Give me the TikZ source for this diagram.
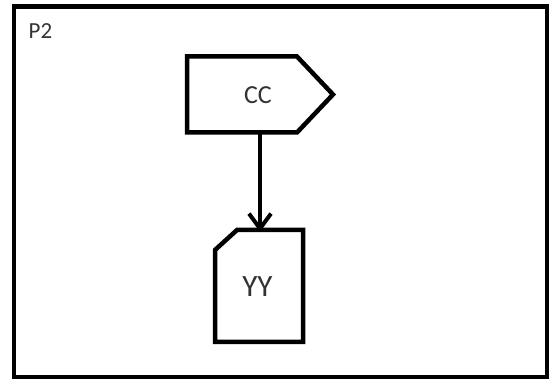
\documentclass[tikz,border=0pt]{standalone}
\usepackage{fontspec}
\setmainfont{Carlito}
\usetikzlibrary{arrows.meta}
\begin{document}
\begin{tikzpicture}[x=1pt,y=-1pt,
  shapeline/.style={draw=black,line width=4.5pt,line join=miter},
  lbl/.style={inner sep=0pt,text=black!80}]
\useasboundingbox (0,0) rectangle (550,379);
% outer frame
\draw[line width=4.5pt] (14,6.5) rectangle (547,377.5);
\node[lbl,font=\fontsize{23}{26}\selectfont,anchor=base west] (p2) at (28.5,39) {P2};
% CC shape (offpage-like pentagon)
\draw[shapeline] (187,56.5) -- (297,56.5) -- (333,94.5) -- (297,132.5) -- (187,132.5) -- cycle;
\coordinate (ccbottom) at (260,132.5);
\node[lbl,font=\fontsize{26}{28}\selectfont] (cc) at (258,95.5) {CC};
% YY shape (card)
\draw[shapeline] (237,230) -- (303,230) -- (303,342) -- (215,342) -- (215,250) -- cycle;
\coordinate (yytop) at (260,230);
\node[lbl,font=\fontsize{31}{34}\selectfont] (yy) at (257.5,287) {YY};
\draw[line width=4pt,-{Straight Barb[length=15pt,width=22pt,line width=4pt]}] (ccbottom) -- ([yshift=-2pt]yytop);
\end{tikzpicture}
\end{document}
